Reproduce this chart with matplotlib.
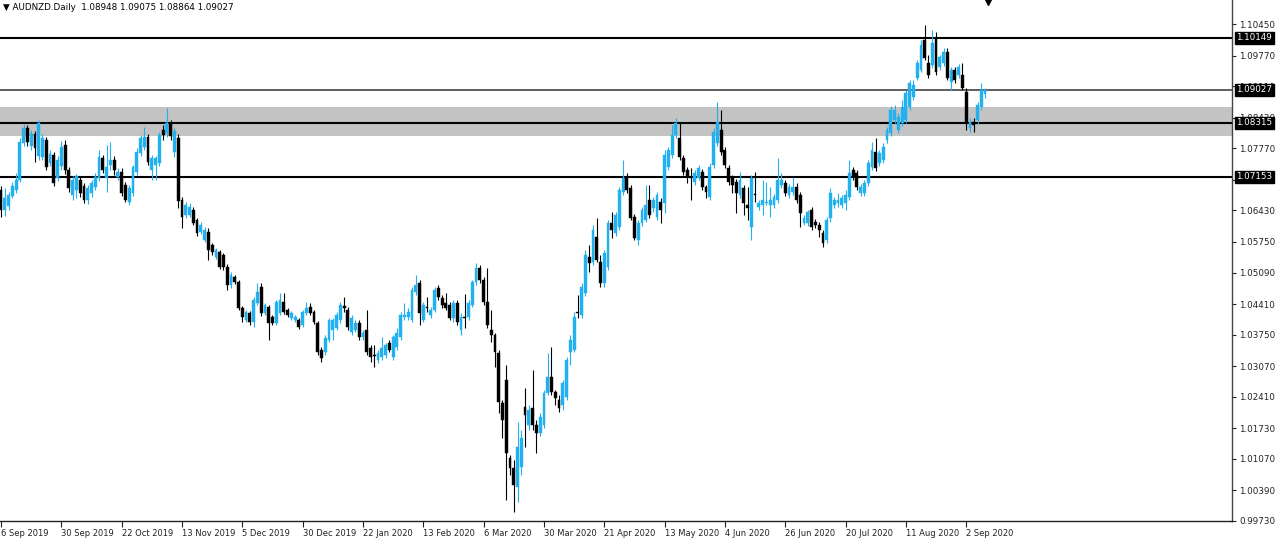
import matplotlib
matplotlib.use("Agg")
import matplotlib.pyplot as plt
import matplotlib.transforms as mtransforms
import numpy as np

# AUDNZD daily candles, 6 Sep 2019 .. 10 Sep 2020
opens = [
    1.0687, 1.0644, 1.0652, 1.0674, 1.0687, 1.0709, 1.0789, 1.0821, 1.0782, 1.0808,
    1.0760, 1.0758, 1.0795, 1.0745, 1.0762, 1.0713, 1.0739, 1.0784, 1.0730, 1.0676,
    1.0687, 1.0709, 1.0696, 1.0665, 1.0681, 1.0694, 1.0713, 1.0756, 1.0713, 1.0741,
    1.0752, 1.0715, 1.0726, 1.0698, 1.0661, 1.0681, 1.0726, 1.0767, 1.0780, 1.0801,
    1.0730, 1.0741, 1.0745, 1.0816, 1.0810, 1.0832, 1.0769, 1.0799, 1.0665, 1.0633,
    1.0633, 1.0644, 1.0622, 1.0596, 1.0579, 1.0596, 1.0568, 1.0543, 1.0553, 1.0547,
    1.0521, 1.0482, 1.0499, 1.0488, 1.0432, 1.0407, 1.0422, 1.0402, 1.0443, 1.0478,
    1.0422, 1.0435, 1.0413, 1.0400, 1.0422, 1.0445, 1.0428, 1.0411, 1.0407, 1.0407,
    1.0396, 1.0422, 1.0435, 1.0424, 1.0400, 1.0342, 1.0338, 1.0363, 1.0385, 1.0389,
    1.0407, 1.0437, 1.0428, 1.0381, 1.0385, 1.0400, 1.0370, 1.0385, 1.0346, 1.0331,
    1.0320, 1.0327, 1.0331, 1.0357, 1.0327, 1.0348, 1.0370, 1.0413, 1.0413, 1.0407,
    1.0467, 1.0486, 1.0407, 1.0435, 1.0417, 1.0428, 1.0476, 1.0454, 1.0443, 1.0439,
    1.0411, 1.0443, 1.0385, 1.0413, 1.0413, 1.0439, 1.0488, 1.0519, 1.0493, 1.0445,
    1.0385, 1.0374, 1.0335, 1.0228, 1.0277, 1.0109, 1.0087, 1.0046, 1.0090, 1.0219,
    1.0180, 1.0217, 1.0180, 1.0163, 1.0180, 1.0249, 1.0284, 1.0251, 1.0234, 1.0223,
    1.0241, 1.0338, 1.0342, 1.0424, 1.0417, 1.0465, 1.0543, 1.0532, 1.0586, 1.0532,
    1.0486, 1.0521, 1.0616, 1.0594, 1.0607, 1.0683, 1.0715, 1.0692, 1.0629, 1.0579,
    1.0616, 1.0622, 1.0665, 1.0648, 1.0629, 1.0661, 1.0659, 1.0737, 1.0762, 1.0806,
    1.0799, 1.0756, 1.0730, 1.0715, 1.0705, 1.0713, 1.0726, 1.0694, 1.0672, 1.0741,
    1.0789, 1.0816, 1.0773, 1.0735, 1.0713, 1.0705, 1.0676, 1.0692, 1.0655, 1.0607,
    1.0678, 1.0650, 1.0655, 1.0659, 1.0655, 1.0655, 1.0665, 1.0698, 1.0702, 1.0676,
    1.0683, 1.0694, 1.0676, 1.0616, 1.0616, 1.0644, 1.0618, 1.0612, 1.0594, 1.0579,
    1.0627, 1.0655, 1.0659, 1.0655, 1.0659, 1.0672, 1.0730, 1.0724, 1.0681, 1.0681,
    1.0702, 1.0737, 1.0769, 1.0745, 1.0752, 1.0795, 1.0810, 1.0838, 1.0816, 1.0832,
    1.0838, 1.0866, 1.0888, 1.0929, 1.0946, 1.1011, 1.0961, 1.0957, 1.1015, 1.0952,
    1.0961, 1.0985, 1.0920, 1.0946, 1.0935, 1.0935, 1.0898, 1.0821, 1.0834, 1.0838,
    1.0866, 1.08948,
]
highs = [
    1.0696, 1.0692, 1.0683, 1.0705, 1.0724, 1.0799, 1.0829, 1.0827, 1.0816, 1.0814,
    1.0838, 1.0808, 1.0801, 1.0773, 1.0769, 1.0760, 1.0793, 1.0795, 1.0737, 1.0717,
    1.0722, 1.0715, 1.0702, 1.0698, 1.0709, 1.0724, 1.0773, 1.0762, 1.0784, 1.0791,
    1.0760, 1.0735, 1.0735, 1.0705, 1.0698, 1.0741, 1.0778, 1.0806, 1.0823, 1.0808,
    1.0762, 1.0760, 1.0812, 1.0827, 1.0864, 1.0838, 1.0821, 1.0808, 1.0672, 1.0661,
    1.0659, 1.0650, 1.0627, 1.0618, 1.0607, 1.0605, 1.0573, 1.0562, 1.0558, 1.0551,
    1.0527, 1.0510, 1.0504, 1.0493, 1.0437, 1.0428, 1.0426, 1.0456, 1.0486, 1.0486,
    1.0443, 1.0439, 1.0417, 1.0450, 1.0465, 1.0465, 1.0432, 1.0426, 1.0417, 1.0411,
    1.0428, 1.0445, 1.0443, 1.0428, 1.0404, 1.0348, 1.0374, 1.0411, 1.0411, 1.0424,
    1.0445, 1.0456, 1.0435, 1.0417, 1.0407, 1.0407, 1.0385, 1.0428, 1.0353, 1.0353,
    1.0342, 1.0370, 1.0357, 1.0363, 1.0374, 1.0389, 1.0424, 1.0443, 1.0432, 1.0478,
    1.0504, 1.0493, 1.0445, 1.0456, 1.0435, 1.0478, 1.0482, 1.0460, 1.0465, 1.0445,
    1.0450, 1.0450, 1.0422, 1.0463, 1.0450, 1.0493, 1.0530, 1.0525, 1.0499, 1.0519,
    1.0428, 1.0379, 1.0342, 1.0234, 1.0309, 1.0115, 1.0105, 1.0187, 1.0169, 1.0260,
    1.0223, 1.0299, 1.0191, 1.0206, 1.0256, 1.0335, 1.0348, 1.0256, 1.0245, 1.0277,
    1.0327, 1.0374, 1.0424, 1.0460, 1.0486, 1.0558, 1.0568, 1.0612, 1.0627, 1.0547,
    1.0558, 1.0622, 1.0640, 1.0640, 1.0694, 1.0752, 1.0724, 1.0698, 1.0635, 1.0622,
    1.0650, 1.0698, 1.0698, 1.0672, 1.0683, 1.0670, 1.0773, 1.0780, 1.0827, 1.0843,
    1.0832, 1.0762, 1.0737, 1.0735, 1.0730, 1.0741, 1.0733, 1.0698, 1.0745, 1.0821,
    1.0877, 1.0860, 1.0780, 1.0741, 1.0719, 1.0711, 1.0726, 1.0698, 1.0694, 1.0719,
    1.0726, 1.0665, 1.0709, 1.0705, 1.0694, 1.0678, 1.0756, 1.0724, 1.0709, 1.0700,
    1.0715, 1.0702, 1.0683, 1.0633, 1.0644, 1.0650, 1.0624, 1.0618, 1.0601, 1.0629,
    1.0692, 1.0672, 1.0681, 1.0676, 1.0687, 1.0752, 1.0737, 1.0730, 1.0700, 1.0709,
    1.0752, 1.0791, 1.0799, 1.0773, 1.0789, 1.0823, 1.0868, 1.0870, 1.0853, 1.0881,
    1.0903, 1.0924, 1.0924, 1.0967, 1.1011, 1.1043, 1.0978, 1.1032, 1.1028, 1.0978,
    1.0993, 1.0993, 1.0952, 1.0952, 1.0959, 1.0961, 1.0907, 1.0843, 1.0843, 1.0877,
    1.0918, 1.09075,
]
lows = [
    1.0629, 1.0631, 1.0644, 1.0670, 1.0681, 1.0705, 1.0782, 1.0782, 1.0773, 1.0748,
    1.0752, 1.0752, 1.0730, 1.0739, 1.0696, 1.0707, 1.0730, 1.0722, 1.0683, 1.0665,
    1.0670, 1.0672, 1.0659, 1.0657, 1.0672, 1.0687, 1.0707, 1.0724, 1.0683, 1.0730,
    1.0719, 1.0709, 1.0674, 1.0661, 1.0655, 1.0674, 1.0719, 1.0760, 1.0773, 1.0741,
    1.0709, 1.0709, 1.0739, 1.0795, 1.0801, 1.0795, 1.0758, 1.0648, 1.0605, 1.0627,
    1.0629, 1.0612, 1.0588, 1.0592, 1.0575, 1.0536, 1.0547, 1.0538, 1.0516, 1.0514,
    1.0471, 1.0476, 1.0484, 1.0428, 1.0402, 1.0402, 1.0396, 1.0391, 1.0439, 1.0415,
    1.0417, 1.0363, 1.0396, 1.0396, 1.0417, 1.0419, 1.0413, 1.0407, 1.0402, 1.0387,
    1.0391, 1.0417, 1.0417, 1.0398, 1.0331, 1.0316, 1.0331, 1.0359, 1.0363, 1.0385,
    1.0400, 1.0424, 1.0385, 1.0374, 1.0381, 1.0363, 1.0363, 1.0331, 1.0316, 1.0305,
    1.0314, 1.0320, 1.0325, 1.0338, 1.0320, 1.0342, 1.0363, 1.0407, 1.0407, 1.0402,
    1.0460, 1.0396, 1.0402, 1.0424, 1.0411, 1.0424, 1.0450, 1.0432, 1.0428, 1.0407,
    1.0402, 1.0396, 1.0374, 1.0389, 1.0407, 1.0435, 1.0482, 1.0486, 1.0439, 1.0389,
    1.0359, 1.0305, 1.0206, 1.0152, 1.0018, 1.0072, 0.9993, 1.0014, 1.0072, 1.0133,
    1.0169, 1.0169, 1.0120, 1.0156, 1.0174, 1.0245, 1.0245, 1.0223, 1.0208, 1.0212,
    1.0234, 1.0309, 1.0338, 1.0411, 1.0411, 1.0458, 1.0510, 1.0525, 1.0532, 1.0478,
    1.0478, 1.0514, 1.0584, 1.0588, 1.0601, 1.0676, 1.0681, 1.0622, 1.0579, 1.0568,
    1.0609, 1.0618, 1.0627, 1.0640, 1.0622, 1.0616, 1.0637, 1.0730, 1.0756, 1.0799,
    1.0752, 1.0719, 1.0702, 1.0665, 1.0698, 1.0709, 1.0687, 1.0670, 1.0665, 1.0735,
    1.0782, 1.0762, 1.0735, 1.0698, 1.0681, 1.0637, 1.0670, 1.0633, 1.0622, 1.0579,
    1.0661, 1.0644, 1.0633, 1.0655, 1.0629, 1.0648, 1.0659, 1.0692, 1.0674, 1.0670,
    1.0676, 1.0659, 1.0607, 1.0612, 1.0609, 1.0601, 1.0605, 1.0586, 1.0564, 1.0573,
    1.0618, 1.0648, 1.0650, 1.0648, 1.0644, 1.0665, 1.0709, 1.0687, 1.0674, 1.0674,
    1.0696, 1.0730, 1.0728, 1.0739, 1.0745, 1.0789, 1.0803, 1.0832, 1.0810, 1.0825,
    1.0832, 1.0860, 1.0881, 1.0924, 1.0941, 1.0967, 1.0929, 1.0950, 1.0935, 1.0946,
    1.0954, 1.0924, 1.0903, 1.0918, 1.0929, 1.0903, 1.0816, 1.0812, 1.0812, 1.0829,
    1.0860, 1.08864,
]
closes = [
    1.0644, 1.0670, 1.0676, 1.0696, 1.0709, 1.0791, 1.0821, 1.0791, 1.0808, 1.0778,
    1.0832, 1.0799, 1.0737, 1.0765, 1.0702, 1.0752, 1.0780, 1.0730, 1.0692, 1.0709,
    1.0717, 1.0681, 1.0665, 1.0692, 1.0702, 1.0715, 1.0758, 1.0730, 1.0737, 1.0752,
    1.0730, 1.0726, 1.0681, 1.0665, 1.0692, 1.0737, 1.0769, 1.0799, 1.0801, 1.0748,
    1.0756, 1.0756, 1.0806, 1.0806, 1.0832, 1.0803, 1.0814, 1.0663, 1.0629, 1.0655,
    1.0650, 1.0616, 1.0594, 1.0612, 1.0601, 1.0558, 1.0553, 1.0558, 1.0521, 1.0521,
    1.0482, 1.0504, 1.0488, 1.0432, 1.0413, 1.0424, 1.0402, 1.0450, 1.0467, 1.0422,
    1.0439, 1.0400, 1.0400, 1.0445, 1.0450, 1.0424, 1.0417, 1.0422, 1.0413, 1.0391,
    1.0424, 1.0432, 1.0422, 1.0402, 1.0338, 1.0325, 1.0368, 1.0407, 1.0407, 1.0417,
    1.0439, 1.0432, 1.0391, 1.0411, 1.0400, 1.0370, 1.0379, 1.0338, 1.0327, 1.0329,
    1.0335, 1.0346, 1.0353, 1.0342, 1.0370, 1.0379, 1.0417, 1.0417, 1.0424, 1.0471,
    1.0482, 1.0422, 1.0439, 1.0432, 1.0428, 1.0471, 1.0456, 1.0439, 1.0432, 1.0411,
    1.0443, 1.0402, 1.0413, 1.0411, 1.0443, 1.0488, 1.0519, 1.0493, 1.0445, 1.0396,
    1.0374, 1.0338, 1.0230, 1.0191, 1.0120, 1.0087, 1.0051, 1.0133, 1.0152, 1.0202,
    1.0212, 1.0180, 1.0163, 1.0197, 1.0249, 1.0284, 1.0251, 1.0238, 1.0217, 1.0271,
    1.0320, 1.0363, 1.0413, 1.0422, 1.0478, 1.0547, 1.0530, 1.0601, 1.0536, 1.0486,
    1.0551, 1.0616, 1.0601, 1.0633, 1.0687, 1.0713, 1.0687, 1.0627, 1.0584, 1.0616,
    1.0644, 1.0655, 1.0633, 1.0665, 1.0676, 1.0644, 1.0762, 1.0773, 1.0806, 1.0832,
    1.0758, 1.0726, 1.0715, 1.0713, 1.0724, 1.0735, 1.0694, 1.0683, 1.0737, 1.0812,
    1.0834, 1.0769, 1.0741, 1.0705, 1.0698, 1.0681, 1.0709, 1.0659, 1.0648, 1.0713,
    1.0676, 1.0659, 1.0665, 1.0661, 1.0665, 1.0672, 1.0709, 1.0709, 1.0681, 1.0694,
    1.0694, 1.0665, 1.0637, 1.0627, 1.0640, 1.0607, 1.0612, 1.0601, 1.0573, 1.0622,
    1.0681, 1.0665, 1.0665, 1.0670, 1.0676, 1.0724, 1.0715, 1.0694, 1.0694, 1.0702,
    1.0745, 1.0773, 1.0735, 1.0767, 1.0780, 1.0816, 1.0860, 1.0860, 1.0845, 1.0866,
    1.0896, 1.0918, 1.0913, 1.0961, 1.1000, 1.0972, 1.0935, 1.1004, 1.0941, 1.0974,
    1.0985, 1.0929, 1.0946, 1.0924, 1.0952, 1.0907, 1.0834, 1.0834, 1.0827, 1.0870,
    1.0903, 1.09027,
]

date_labels = ["6 Sep 2019", "30 Sep 2019", "22 Oct 2019", "13 Nov 2019", "5 Dec 2019",
               "30 Dec 2019", "22 Jan 2020", "13 Feb 2020", "6 Mar 2020", "30 Mar 2020",
               "21 Apr 2020", "13 May 2020", "4 Jun 2020", "26 Jun 2020", "20 Jul 2020",
               "11 Aug 2020", "2 Sep 2020"]
date_every = 16

price_ticks = [1.10450, 1.09770, 1.09110, 1.08430, 1.07770, 1.07090, 1.06430, 1.05750,
               1.05090, 1.04410, 1.03750, 1.03070, 1.02410, 1.01730, 1.01070, 1.00390,
               0.99730]
level_lines = [1.10149, 1.08315, 1.07153]
bid_price = 1.09027
zone_low, zone_high = 1.0803, 1.0866
title = "AUDNZD.Daily  1.08948 1.09075 1.08864 1.09027"

BULL = "#22b0ee"
BEAR = "#000000"
FONT = "DejaVu Sans"
FS = 6.0

W, H = 1280, 544
fig = plt.figure(figsize=(W / 100, H / 100), dpi=100)
fig.patch.set_facecolor("white")
ax = fig.add_axes([0, 23 / H, 1232 / W, 521 / H])

o = np.array(opens)
hi = np.array(highs)
lo = np.array(lows)
c = np.array(closes)
x = np.arange(len(o))
up = c >= o
cols = np.where(up, BULL, BEAR)

# wicks
ax.vlines(x, lo, hi, colors=cols, linewidth=0.8, zorder=3)
# bodies
body_lo = np.minimum(o, c)
body_h = np.maximum(np.abs(c - o), 0.00008)
ax.bar(x, body_h, bottom=body_lo, width=0.75, color=cols, edgecolor=cols,
       linewidth=0.3, zorder=4)

# support / resistance zone and lines
ax.axhspan(zone_low, zone_high, color="#c3c3c3", zorder=1, lw=0)
for lv in level_lines:
    ax.axhline(lv, color="black", linewidth=1.5, zorder=2)
ax.axhline(bid_price, color="#333333", linewidth=1.1, zorder=2)

ax.set_xlim(-0.27, 326.5)
ax.set_ylim(0.99730, 1.10968)

for s in ["left", "top"]:
    ax.spines[s].set_visible(False)
ax.spines["right"].set_color("#444444")
ax.spines["bottom"].set_color("#222222")
ax.spines["right"].set_linewidth(1.0)
ax.spines["bottom"].set_linewidth(1.0)

ax.yaxis.tick_right()
ax.set_yticks(price_ticks)
ax.set_yticklabels([f"{p:.5f}" for p in price_ticks])
ax.tick_params(axis="y", direction="out", length=3, width=0.8, pad=2,
               labelsize=FS + 0.3, colors="#222222")

ax.set_xticks([i * date_every for i in range(len(date_labels))])
ax.set_xticklabels(date_labels)
ax.tick_params(axis="x", direction="out", length=4, width=0.8, pad=1.5,
               labelsize=FS, colors="#222222")
for lab in ax.get_xticklabels():
    lab.set_horizontalalignment("left")
    lab.set_fontfamily(FONT)
for lab in ax.get_yticklabels():
    lab.set_fontfamily(FONT)

# highlighted price labels on the scale
trans = mtransforms.blended_transform_factory(ax.transAxes, ax.transData)
for lv in level_lines + [bid_price]:
    ax.text(1.0035, lv, f"{lv:.5f}", transform=trans, fontsize=FS + 0.3, family=FONT,
            color="white", va="center", ha="left", zorder=10, clip_on=False,
            bbox=dict(boxstyle="square,pad=0.2", fc="black", ec="black"))

# header text
fig.text(3 / W, 1 - 8 / H, "\u25bc " + title, fontsize=FS + 0.3, family=FONT,
         va="center", ha="left", color="black")

# chart-shift marker at the top
ax.plot([261.8], [1.0], marker="v", markersize=7, color="black",
        transform=mtransforms.blended_transform_factory(ax.transData, ax.transAxes),
        clip_on=False, zorder=10)

fig.savefig("out.png", dpi=100, facecolor="white")
